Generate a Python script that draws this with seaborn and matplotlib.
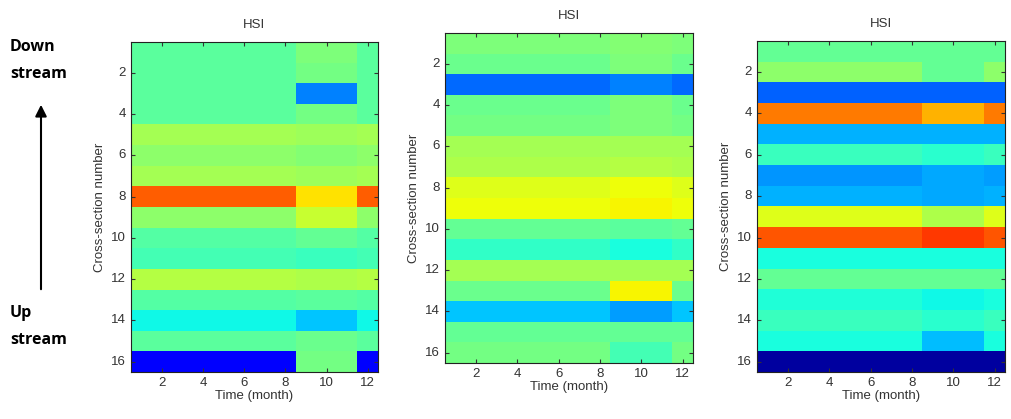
import numpy as np
import pandas as pd
import matplotlib
matplotlib.use('Agg')
import matplotlib.pyplot as plt
import seaborn as sns

# HSI per cross-section (rows 1..16), read as three time blocks:
# months 1-8, months 9-11, month 12
months = list(range(1, 13))
sections = list(range(1, 17))

p1_early = [0.46, 0.46, 0.46, 0.46, 0.55, 0.52, 0.55, 0.81, 0.52, 0.45, 0.43, 0.57, 0.45, 0.37, 0.46, 0.12]
p1_mid   = [0.50, 0.49, 0.25, 0.49, 0.54, 0.51, 0.54, 0.67, 0.59, 0.47, 0.42, 0.56, 0.46, 0.32, 0.48, 0.49]
p1_late  = [0.46, 0.46, 0.46, 0.46, 0.55, 0.52, 0.55, 0.81, 0.52, 0.45, 0.43, 0.57, 0.45, 0.37, 0.46, 0.12]

p2_early = [0.50, 0.48, 0.23, 0.48, 0.49, 0.55, 0.56, 0.62, 0.64, 0.47, 0.41, 0.55, 0.48, 0.32, 0.47, 0.49]
p2_mid   = [0.51, 0.50, 0.25, 0.50, 0.50, 0.55, 0.57, 0.64, 0.65, 0.46, 0.38, 0.55, 0.65, 0.28, 0.47, 0.43]
p2_late  = [0.50, 0.48, 0.23, 0.48, 0.49, 0.55, 0.56, 0.62, 0.64, 0.47, 0.41, 0.55, 0.48, 0.32, 0.47, 0.49]

p3_early = [0.47, 0.52, 0.22, 0.78, 0.30, 0.42, 0.27, 0.30, 0.62, 0.82, 0.38, 0.47, 0.39, 0.42, 0.38, 0.03]
p3_mid   = [0.47, 0.47, 0.22, 0.72, 0.30, 0.40, 0.29, 0.29, 0.56, 0.85, 0.38, 0.47, 0.37, 0.40, 0.31, 0.03]
p3_late  = [0.47, 0.52, 0.22, 0.78, 0.30, 0.42, 0.28, 0.30, 0.62, 0.82, 0.38, 0.47, 0.38, 0.42, 0.38, 0.03]


def build(early, mid, late):
    rows = []
    for e, m, l in zip(early, mid, late):
        rows.append([e] * 8 + [m] * 3 + [l])
    return pd.DataFrame(rows, index=sections, columns=months)


panels = [build(p1_early, p1_mid, p1_late),
          build(p2_early, p2_mid, p2_late),
          build(p3_early, p3_mid, p3_late)]

plt.rcParams['font.family'] = ['Liberation Sans', 'DejaVu Sans']

fig = plt.figure(figsize=(10.11, 4.19), dpi=100)
W, H = 1011, 419
boxes = [(131, 42, 378, 372), (445, 33, 693, 363), (757, 41, 1005, 372)]

for df, (l, t, r, b) in zip(panels, boxes):
    ax = fig.add_axes([l / W, (H - b) / H, (r - l) / W, (b - t) / H])
    sns.heatmap(df, cmap='jet', vmin=0, vmax=1, cbar=False, ax=ax)
    ax.set_xticks([m - 0.5 for m in months[1::2]])
    ax.set_xticklabels(months[1::2], rotation=0)
    ax.set_yticks([s - 0.5 for s in sections[1::2]])
    ax.set_yticklabels(sections[1::2], rotation=0)
    ax.tick_params(direction='in', length=3, width=0.8, labelsize=9.5,
                   top=True, right=True, colors='#333333', labelcolor='#333333')
    for sp in ax.spines.values():
        sp.set_visible(True)
        sp.set_color('#222222')
        sp.set_linewidth(0.8)
    ax.set_xlabel('Time (month)', fontsize=9.5, color='#333333', labelpad=1)
    ax.set_ylabel('Cross-section number', fontsize=9.5, color='#333333', labelpad=4)
    ax.set_title('HSI', fontsize=9.5, color='#333333', pad=10)

# upstream / downstream annotation
for txt, y in [('Down', 47), ('stream', 74), ('Up', 313), ('stream', 340)]:
    fig.text(10 / W, 1 - y / H, txt, fontsize=11.5, fontweight='bold', va='center', ha='left',
             family=['Open Sans', 'DejaVu Sans'])
fig.patches.append(matplotlib.patches.FancyArrowPatch(
    (41 / W, 1 - 292 / H), (41 / W, 1 - 102 / H), transform=fig.transFigure,
    arrowstyle='-|>', mutation_scale=17, linewidth=1.5, color='black'))

fig.savefig('out.png', dpi=100)
